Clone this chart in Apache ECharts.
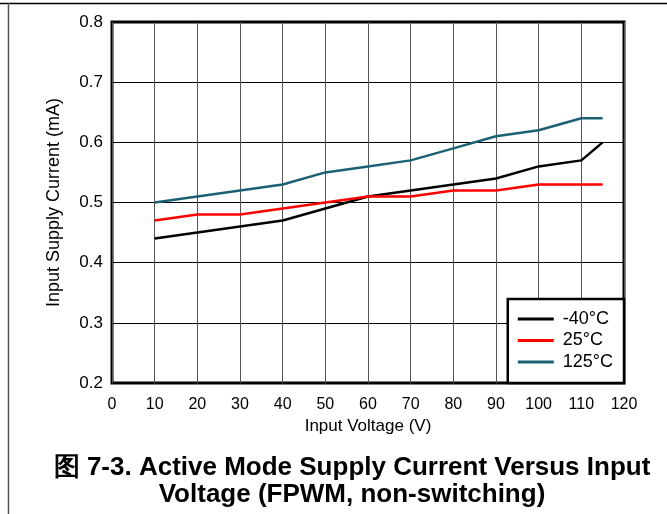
<!DOCTYPE html>
<html><head><meta charset="utf-8">
<script src="https://cdn.jsdelivr.net/npm/echarts@6/dist/echarts.min.js"></script>
<style>html,body{margin:0;padding:0;background:#fff}#c{width:667px;height:514px}</style>
</head><body><div id="c"></div>
<script>
const voltages = [10,20,30,40,50,60,70,80,90,100,110,115];
const seriesNames = ['-40°C','25°C','125°C'];
const seriesColors = ['#000000','#ff0000','#1b6173'];
const cur_m40 = [0.44,0.45,0.46,0.47,0.49,0.51,0.52,0.53,0.54,0.56,0.57,0.60];
const cur_25  = [0.47,0.48,0.48,0.49,0.50,0.51,0.51,0.52,0.52,0.53,0.53,0.53];
const cur_125 = [0.50,0.51,0.52,0.53,0.55,0.56,0.57,0.59,0.61,0.62,0.64,0.64];
const allData = [cur_m40, cur_25, cur_125];
const titleLines = ['图 7-3. Active Mode Supply Current Versus Input','Voltage (FPWM, non-switching)'];

const font = 'Liberation Sans, Arial, sans-serif';
const chart = echarts.init(document.getElementById('c'), null, {renderer:'canvas'});
chart.setOption({
  animation:false,
  backgroundColor:'#fff',
  title:{
    text: titleLines.join('\n'),
    left: 347, top: 449, textAlign:'center',
    textStyle:{fontFamily:font, fontSize:26, fontWeight:'bold', color:'#000', lineHeight:27}
  },
  grid:{left:112, right:43, top:22, bottom:131, show:true, borderColor:'#000', borderWidth:3, backgroundColor:'transparent'},
  xAxis:{
    type:'value', min:0, max:120, interval:10,
    name:'Input Voltage (V)', nameLocation:'middle', nameGap:31,
    nameTextStyle:{fontFamily:font, fontSize:17, color:'#000'},
    axisLine:{show:false}, axisTick:{show:false},
    axisLabel:{fontFamily:font, fontSize:16, color:'#000', margin:14},
    splitLine:{show:true, lineStyle:{color:'#555', width:1}}
  },
  yAxis:{
    type:'value', min:0.2, max:0.8, interval:0.1,
    name:'Input Supply Current (mA)', nameLocation:'middle', nameGap:49,
    nameTextStyle:{fontFamily:font, fontSize:18, color:'#000'},
    axisLine:{show:false}, axisTick:{show:false},
    axisLabel:{fontFamily:font, fontSize:17, color:'#000', margin:9, formatter:v=>v.toFixed(1)},
    splitLine:{show:true, lineStyle:{color:'#000', width:1}}
  },
  legend:{
    orient:'vertical', right:43, bottom:131,
    backgroundColor:'#fff', borderColor:'#000', borderWidth:2.5,
    padding:[11,11,12,10], itemGap:3.5, itemWidth:36, itemHeight:3, icon:'rect',
    textStyle:{fontFamily:font, fontSize:18, color:'#000', padding:[0,0,0,4]},
    data: seriesNames
  },
  series: seriesNames.map((n,i)=>({
    name:n, type:'line', symbol:'none', z:3+i,
    color: seriesColors[i],
    lineStyle:{color:seriesColors[i], width:2.5},
    data: voltages.map((v,j)=>[v, allData[i][j]])
  })),
  graphic:[
    {type:'line', shape:{x1:0,y1:3.5,x2:667,y2:3.5}, style:{stroke:'#000', lineWidth:1.5}, silent:true},
    {type:'line', shape:{x1:8.5,y1:3,x2:8.5,y2:514}, style:{stroke:'#555', lineWidth:1.5}, silent:true}
  ]
});
</script></body></html>
